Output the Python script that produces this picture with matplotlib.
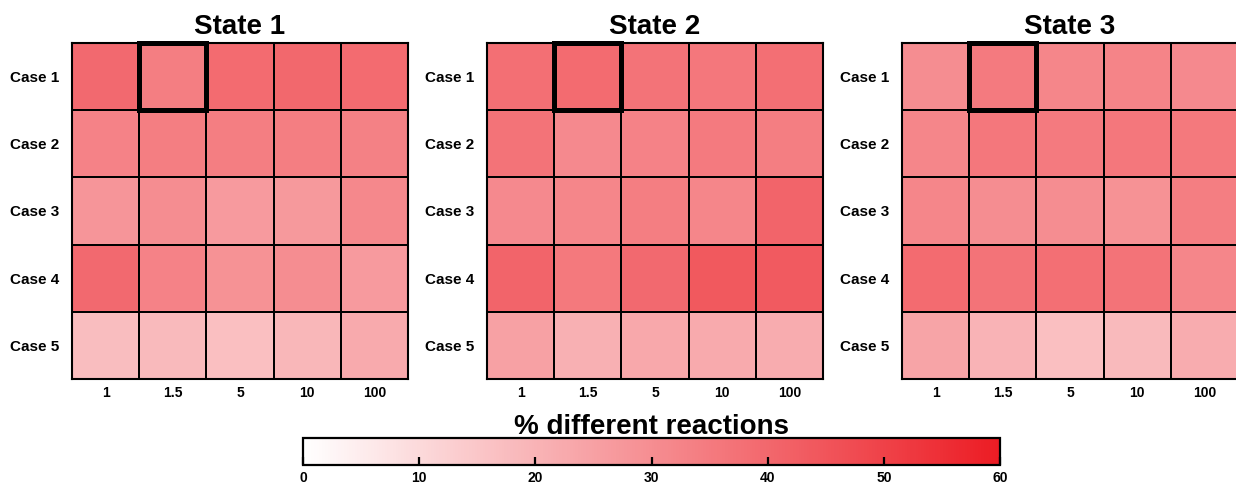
import numpy as np
import matplotlib
matplotlib.use("Agg")
import matplotlib.pyplot as plt
from matplotlib.colors import LinearSegmentedColormap
from matplotlib.patches import Rectangle

plt.rcParams['font.family'] = ['Liberation Sans', 'DejaVu Sans']
plt.rcParams['font.weight'] = 'bold'

# % different reactions, rows = cases, columns = parameter values
cases = ["Case 1", "Case 2", "Case 3", "Case 4", "Case 5"]
params = ["1", "1.5", "5", "10", "100"]
states = ["State 1", "State 2", "State 3"]

state1 = [[39.5, 34.0, 39.0, 40.0, 39.0],
          [33.0, 34.0, 34.0, 34.0, 33.5],
          [28.0, 30.0, 26.5, 27.0, 31.5],
          [39.5, 33.0, 29.0, 30.0, 26.5],
          [17.5, 18.5, 17.0, 19.0, 22.5]]
state2 = [[38.0, 39.0, 37.0, 36.0, 38.0],
          [37.0, 31.0, 33.0, 35.0, 34.0],
          [31.0, 32.0, 34.0, 32.0, 41.0],
          [41.0, 35.5, 39.5, 44.0, 43.5],
          [25.0, 21.0, 23.0, 22.5, 22.0]]
state3 = [[30.0, 35.0, 32.0, 32.5, 31.0],
          [32.0, 36.0, 35.0, 36.0, 35.5],
          [32.0, 30.0, 30.0, 29.0, 34.0],
          [39.0, 37.0, 38.0, 37.0, 32.0],
          [24.0, 20.0, 17.0, 18.5, 22.0]]
vmin, vmax = 0, 60
cbar_ticks = [0, 10, 20, 30, 40, 50, 60]

cmap = LinearSegmentedColormap.from_list("wr", ["#ffffff", "#ec1c24"])

W, H = 1236, 490
fig = plt.figure(figsize=(W / 100, H / 100), dpi=100)

lefts = [72, 487, 902]
side = 336
top = 43
mesh = None
for left, name, data in zip(lefts, states, [state1, state2, state3]):
    ax = fig.add_axes([left / W, 1 - (top + side) / H, side / W, side / H])
    mesh = ax.pcolormesh(np.array(data), cmap=cmap, vmin=vmin, vmax=vmax,
                         edgecolors='black', linewidth=1.1)
    ax.set_xlim(0, 5)
    ax.set_ylim(5, 0)
    ax.set_xticks(np.arange(5) + 0.5)
    ax.set_xticklabels(params, fontsize=10, fontweight='bold')
    ax.set_yticks(np.arange(5) + 0.5)
    ax.set_yticklabels(cases, fontsize=11, fontweight='bold')
    ax.tick_params(length=0, pad=5)
    ax.tick_params(axis='y', pad=9)
    for s in ax.spines.values():
        s.set_linewidth(1.5)
    # highlighted cell: Case 1 at 1.5
    ax.add_patch(Rectangle((1, 0), 1, 1, fill=False, edgecolor='black',
                           linewidth=3.6, clip_on=False, zorder=5))
    fig.text((left + side / 2) / W, 1 - 34 / H, name, fontsize=20,
             fontweight='bold', ha='center', va='baseline')

cax = fig.add_axes([303 / W, 1 - 465 / H, 697 / W, 27 / H])
cb = fig.colorbar(mesh, cax=cax, orientation='horizontal', ticks=cbar_ticks)
cb.outline.set_linewidth(1.6)
cax.tick_params(direction='in', length=6, width=1.6, labelsize=10, pad=4)
for lab in cax.get_xticklabels():
    lab.set_fontweight('bold')
fig.text(651 / W, 1 - 434 / H, "% different reactions", fontsize=20,
         fontweight='bold', ha='center', va='baseline')

fig.savefig("out.png", dpi=100)
plt.close(fig)
